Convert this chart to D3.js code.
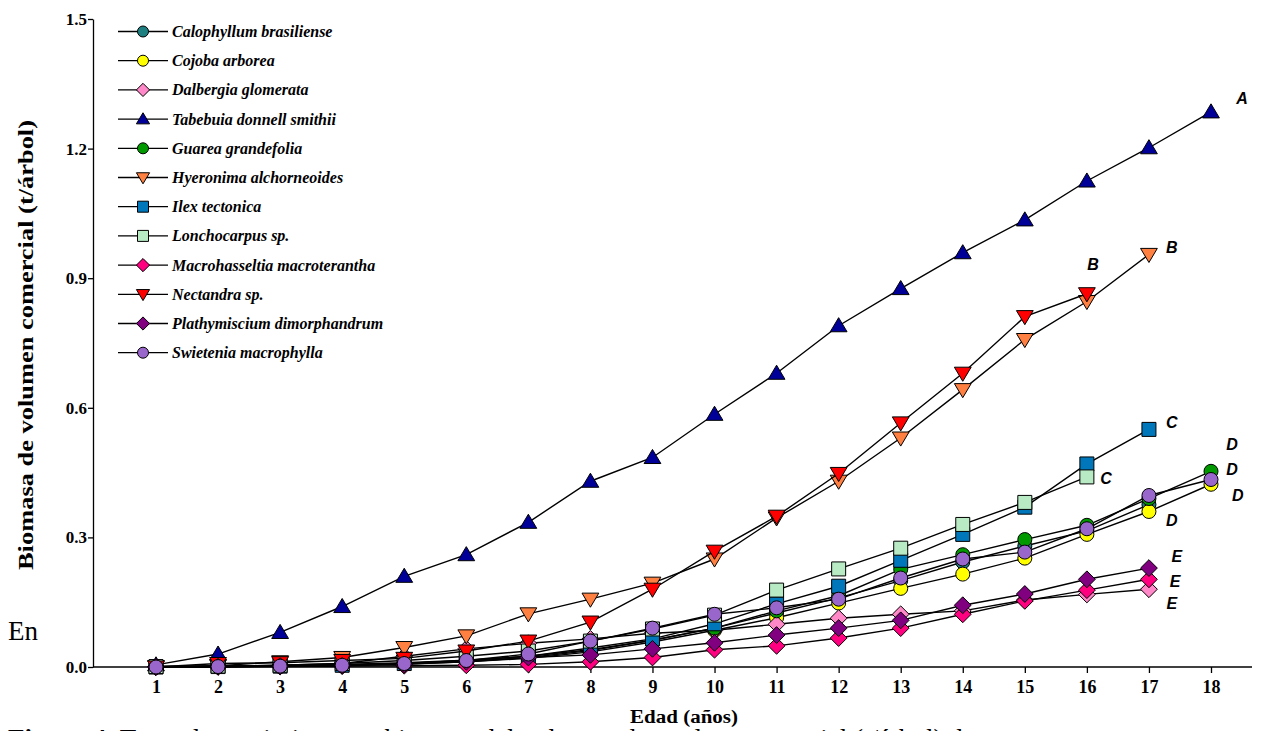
<!DOCTYPE html>
<html><head><meta charset="utf-8">
<script src="https://cdn.jsdelivr.net/npm/d3@7"></script>
<style>body{margin:0;background:#fff;} svg{display:block;}</style>
</head><body>
<svg id="chart" width="1269" height="731"></svg>
<script>
const years = [1,2,3,4,5,6,7,8,9,10,11,12,13,14,15,16,17,18];
const yTicks = [0.0,0.3,0.6,0.9,1.2,1.5];
const seriesNames = ["Calophyllum brasiliense","Cojoba arborea","Dalbergia glomerata","Tabebuia donnell smithii","Guarea grandefolia","Hyeronima alchorneoides","Ilex tectonica","Lonchocarpus sp.","Macrohasseltia macroterantha","Nectandra sp.","Plathymiscium dimorphandrum","Swietenia macrophylla"];
const calophyllum = [0,0.001,0.003,0.006,0.01,0.016,0.025,0.04,0.062,0.09,0.125,0.16,0.2,0.243,0.28,0.315,0.376];
const cojoba = [0,0.001,0.002,0.004,0.007,0.012,0.02,0.035,0.058,0.085,0.114,0.148,0.182,0.215,0.252,0.307,0.36,0.423];
const dalbergia = [0,0.001,0.004,0.008,0.025,0.042,0.055,0.065,0.078,0.085,0.099,0.113,0.122,0.13,0.155,0.168,0.18];
const tabebuia = [0.005,0.03,0.08,0.14,0.21,0.26,0.335,0.43,0.485,0.585,0.68,0.79,0.876,0.959,1.035,1.125,1.202,1.285];
const guarea = [0,0.001,0.002,0.004,0.008,0.013,0.022,0.038,0.062,0.09,0.13,0.165,0.226,0.26,0.295,0.328,0.39,0.453];
const hyeronima = [0.001,0.003,0.012,0.022,0.045,0.072,0.123,0.157,0.194,0.25,0.345,0.43,0.53,0.642,0.758,0.846,0.955];
const ilex = [0,0.001,0.002,0.004,0.008,0.015,0.025,0.044,0.065,0.1,0.146,0.187,0.247,0.307,0.37,0.47,0.55];
const lonchocarpus = [0.001,0.002,0.004,0.008,0.015,0.025,0.037,0.06,0.088,0.12,0.178,0.227,0.275,0.33,0.381,0.44];
const macrohasseltia = [0,0,0.001,0.002,0.003,0.004,0.006,0.012,0.022,0.04,0.049,0.067,0.09,0.122,0.153,0.178,0.203];
const nectandra = [0,0.008,0.01,0.015,0.02,0.037,0.06,0.104,0.18,0.268,0.349,0.448,0.565,0.68,0.811,0.864];
const plathymiscium = [0,0.001,0.002,0.003,0.006,0.012,0.022,0.028,0.042,0.056,0.074,0.09,0.108,0.143,0.169,0.203,0.229];
const swietenia = [0,0.001,0.002,0.004,0.008,0.015,0.03,0.06,0.09,0.122,0.137,0.157,0.206,0.25,0.266,0.32,0.397,0.434];
const seriesValues = [calophyllum,cojoba,dalbergia,tabebuia,guarea,hyeronima,ilex,lonchocarpus,macrohasseltia,nectandra,plathymiscium,swietenia];
const seriesColors = ["#1e7f80","#ffff00","#ff88c8","#000099","#009900","#ff8040","#0077bb","#b8eac4","#ff0080","#ff0000","#800080","#9966cc"];
const seriesShapes = ["circle","circle","diamond","up","circle","down","square","square","diamond","down","diamond","circle"];
const groupLetters = ["D","D","D","D","E","E","E","C","C","B","B","A"];
const letterX = [18.34,18.34,18.43,17.37,17.45,17.42,17.37,17.37,16.31,16.10,17.37,18.50];
const letterY = [0.516,0.458,0.398,0.340,0.255,0.197,0.148,0.565,0.4375,0.931,0.972,1.315];

const svg = d3.select("#chart");
const x = d3.scaleLinear().domain([1,18]).range([156,1211]);
const y = d3.scaleLinear().domain([0,1.5]).range([667,19]);

function shapePath(shape, s){
  if(shape==="circle") return d3.symbol(d3.symbolCircle, Math.PI*s*s)();
  if(shape==="square") return `M${-s},${-s}H${s}V${s}H${-s}Z`;
  if(shape==="diamond"){const d=s*1.2;return `M0,${-d}L${d},0L0,${d}L${-d},0Z`;}
  const h=s*1.15, w=s*1.2;
  if(shape==="up") return `M0,${-h}L${w},${h*0.75}L${-w},${h*0.75}Z`;
  return `M0,${h}L${w},${-h*0.75}L${-w},${-h*0.75}Z`;
}

// axes
const yAxis = d3.axisLeft(y).tickValues(yTicks).tickFormat(d3.format(".1f")).tickSize(5).tickSizeOuter(0);
const gy = svg.append("g").attr("transform","translate(93,0)").call(yAxis);
gy.select(".domain").attr("stroke","#000").attr("stroke-width",1.3);
gy.selectAll(".tick line").attr("stroke","#000").attr("stroke-width",1.3);
gy.selectAll(".tick text").attr("font-family","Liberation Serif").attr("font-weight","bold").attr("font-size",17).attr("fill","#000").attr("x",-6);

const xAxis = d3.axisBottom(x).tickValues(years).tickFormat(d3.format("d")).tickSize(6).tickSizeOuter(0);
const gx = svg.append("g").attr("transform","translate(0,667)").call(xAxis);
gx.select(".domain").attr("d","M93,0H1252").attr("stroke","#000").attr("stroke-width",1.3);
gx.selectAll(".tick line").attr("stroke","#000").attr("stroke-width",1.3);
gx.selectAll(".tick text").attr("font-family","Liberation Serif").attr("font-weight","bold").attr("font-size",18).attr("fill","#000").attr("y",13);

// series
const line = d3.line().x((d,i)=>x(years[i])).y(d=>y(d));
seriesValues.forEach((vals,k)=>{
  const g = svg.append("g");
  g.append("path").attr("d",line(vals)).attr("fill","none").attr("stroke","#000").attr("stroke-width",1.4);
  g.selectAll("path.m").data(vals).enter().append("path").attr("class","m")
    .attr("d",shapePath(seriesShapes[k],7))
    .attr("transform",(d,i)=>`translate(${x(years[i])},${y(d)})`)
    .attr("fill",seriesColors[k]).attr("stroke","#000").attr("stroke-width",1);
});

// group letters
svg.selectAll("text.lbl").data(groupLetters).enter().append("text").attr("class","lbl")
  .attr("x",(d,i)=>x(letterX[i])).attr("y",(d,i)=>y(letterY[i]))
  .attr("text-anchor","middle").attr("dominant-baseline","central")
  .attr("font-family","Liberation Sans").attr("font-weight","bold").attr("font-style","italic").attr("font-size",16)
  .text(d=>d);

// legend
const lg = svg.append("g");
seriesNames.forEach((n,k)=>{
  const yy = 31.5 + k*29.2;
  lg.append("line").attr("x1",118).attr("x2",168).attr("y1",yy).attr("y2",yy).attr("stroke","#000").attr("stroke-width",1.3);
  lg.append("path").attr("d",shapePath(seriesShapes[k],5.5)).attr("transform",`translate(143,${yy})`)
    .attr("fill",seriesColors[k]).attr("stroke","#000").attr("stroke-width",1);
  lg.append("text").attr("x",172).attr("y",yy).attr("dominant-baseline","central")
    .attr("font-family","Liberation Serif").attr("font-weight","bold").attr("font-style","italic").attr("font-size",16)
    .text(n);
});

// axis titles
svg.append("text").attr("transform","translate(26,345) rotate(-90)").attr("text-anchor","middle")
  .attr("dominant-baseline","central").attr("font-family","Liberation Serif").attr("font-weight","bold").attr("font-size",21)
  .attr("textLength",450).attr("lengthAdjust","spacingAndGlyphs")
  .text("Biomasa de volumen comercial (t/árbol)");
svg.append("text").attr("x",684).attr("y",717).attr("text-anchor","middle").attr("dominant-baseline","central")
  .attr("font-family","Liberation Serif").attr("font-weight","bold").attr("font-size",18)
  .attr("textLength",108).attr("lengthAdjust","spacingAndGlyphs")
  .text("Edad (años)");

// surrounding document text
svg.append("text").attr("x",8).attr("y",640).attr("font-family","Liberation Serif").attr("font-size",27).text("En");
const cap = svg.append("text").attr("x",8).attr("y",748).attr("font-family","Liberation Serif").attr("font-size",27);
cap.append("tspan").attr("font-weight","bold").text("Figura 4. ");
cap.append("tspan").text("Tasas de crecimiento en biomasa del volumen de madera comercial (t/árbol) de");
</script>
</body></html>
